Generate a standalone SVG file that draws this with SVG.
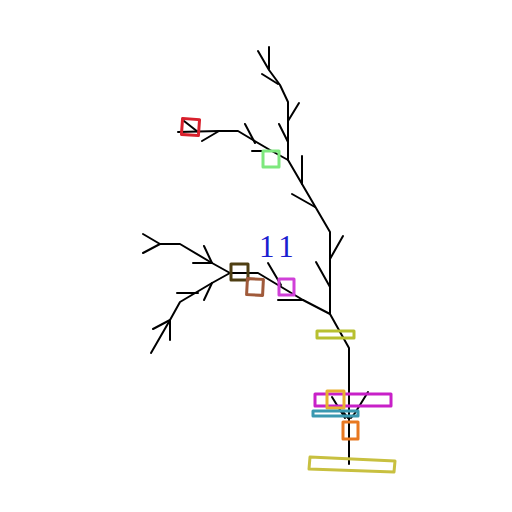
<svg xmlns="http://www.w3.org/2000/svg" width="512" height="512" viewBox="0 0 512 512">
<style>
.t{fill:none;stroke:#000;stroke-width:2;stroke-linecap:round;stroke-linejoin:round}
.b{fill:none;stroke-width:3;stroke-linejoin:round}
</style>
<rect width="512" height="512" fill="#fff"/>
<g id="connectors" class="t">
<polyline points="258,51 269,70 280,85 288,102 288,160 316,208 330,232 330,314 349,348 349,464"/>
<line x1="269" y1="47" x2="269" y2="69"/>
<line x1="262" y1="74" x2="278" y2="84"/>
<line x1="299" y1="103" x2="288" y2="121"/>
<line x1="279" y1="124" x2="288" y2="142"/>
<line x1="302" y1="156" x2="302" y2="184"/>
<line x1="292" y1="194" x2="315" y2="207"/>
<line x1="343" y1="236" x2="330" y2="259"/>
<line x1="316" y1="262" x2="330" y2="287"/>
<polyline points="288,160 270,150 253,140 238,131 219,131 178,132"/>
<line x1="245" y1="124" x2="255" y2="143"/>
<line x1="252" y1="151" x2="265" y2="151"/>
<line x1="202" y1="141" x2="219" y2="131"/>
<line x1="184" y1="121" x2="198" y2="132"/>
<polyline points="330,314 303,300 258,273 230,273"/>
<line x1="278" y1="300" x2="303" y2="300"/>
<line x1="268" y1="263" x2="281" y2="285"/>
<polyline points="230,273 212,263 180,244 160,244"/>
<line x1="193" y1="263" x2="212" y2="263"/>
<line x1="204" y1="246" x2="212" y2="263"/>
<line x1="143" y1="234" x2="160" y2="244"/>
<line x1="143" y1="253" x2="160" y2="244"/>
<polyline points="230,273 212,283 180,302 170,320 151,353"/>
<line x1="177" y1="293" x2="198" y2="293"/>
<line x1="204" y1="300" x2="212" y2="283"/>
<line x1="153" y1="329" x2="170" y2="320"/>
<line x1="170" y1="320" x2="170" y2="340"/>
<line x1="332" y1="397" x2="345" y2="418"/>
<polyline points="368,392 355,413 351,418"/>
<line x1="343" y1="412" x2="348" y2="418"/>
</g>
<g id="n-red"><rect class="b" x="182" y="119" width="17" height="16" stroke="#d8202c" transform="rotate(4 190 127)"/></g>
<g id="n-green"><rect class="b" x="263" y="151" width="16" height="16" stroke="#7ee87e"/></g>
<g id="n-darkbrown"><rect class="b" x="231" y="264" width="17" height="16" stroke="#4e3e12"/></g>
<g id="n-brown"><rect class="b" x="247" y="279" width="16" height="16" stroke="#a05a3a" transform="rotate(3 255 287)"/></g>
<g id="n-pink"><rect class="b" x="279" y="279" width="15" height="16" stroke="#d040d8"/></g>
<g id="n-olive"><rect class="b" x="317" y="331" width="37" height="7" stroke="#b8c030"/></g>
<g id="n-magenta"><rect class="b" x="315" y="394" width="76" height="12" stroke="#c820c8"/></g>
<g id="n-amber"><rect class="b" x="327" y="391" width="17" height="17" stroke="#e8b030"/></g>
<g id="n-teal"><rect class="b" x="313" y="411" width="45" height="5" stroke="#3a98b0"/></g>
<g id="n-orange"><rect class="b" x="343" y="422" width="15" height="17" stroke="#e87820"/></g>
<g id="n-yellow"><polygon class="b" points="310,457 395,461 394,472 309,469" stroke="#c8c040"/></g>
<text x="259" y="257" font-family="Liberation Serif, serif" font-size="31" letter-spacing="5" fill="#1a20d0">11</text>
</svg>
